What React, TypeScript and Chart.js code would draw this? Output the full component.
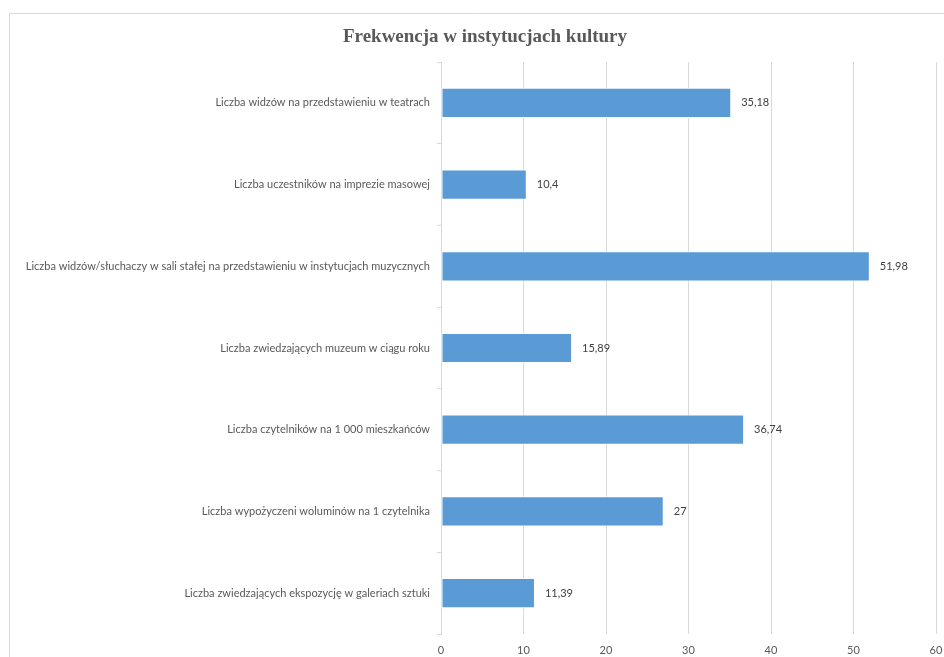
import React, { useEffect, useRef } from "react";
import { Chart, registerables } from "chart.js";

Chart.register(...registerables);

const categories = [
  "Liczba widzów na przedstawieniu w teatrach",
  "Liczba uczestników na imprezie masowej",
  "Liczba widzów/słuchaczy w sali stałej na przedstawieniu w instytucjach muzycznych",
  "Liczba zwiedzających muzeum w ciągu roku",
  "Liczba czytelników na 1 000 mieszkańców",
  "Liczba wypożyczeni woluminów na 1 czytelnika",
  "Liczba zwiedzających ekspozycję w galeriach sztuki",
];
const values = [35.18, 10.4, 51.98, 15.89, 36.74, 27, 11.39];
const xTicks = [0, 10, 20, 30, 40, 50, 60];
const title = "Frekwencja w instytucjach kultury";

const LABEL_FONT = "Lato, 'Liberation Sans', sans-serif";

const framePlugin = {
  id: "frame",
  beforeDraw(chart: any) {
    const ctx = chart.ctx;
    ctx.save();
    ctx.fillStyle = "#ffffff";
    ctx.fillRect(0, 0, chart.width, chart.height);
    ctx.strokeStyle = "#d9d9d9";
    ctx.lineWidth = 1;
    ctx.beginPath();
    ctx.moveTo(9.5, chart.height);
    ctx.lineTo(9.5, 13.5);
    ctx.lineTo(chart.width, 13.5);
    ctx.stroke();
    ctx.font = "bold 19px 'Liberation Serif', 'Times New Roman', serif";
    ctx.fillStyle = "#595959";
    ctx.textAlign = "center";
    ctx.textBaseline = "middle";
    ctx.fillText(title, 485, 37);
    ctx.restore();
  },
};

const labelPlugin = {
  id: "valueLabels",
  afterDatasetsDraw(chart: any) {
    const ctx = chart.ctx;
    const meta = chart.getDatasetMeta(0);
    ctx.save();
    ctx.font = `11px ${LABEL_FONT}`;
    ctx.fillStyle = "#404040";
    ctx.textAlign = "left";
    ctx.textBaseline = "middle";
    meta.data.forEach((bar: any, i: number) => {
      const txt = String(values[i]).replace(".", ",");
      ctx.fillText(txt, bar.x + 10, bar.y);
    });
    ctx.restore();
  },
};

export default function App() {
  const ref = useRef<HTMLCanvasElement>(null);
  useEffect(() => {
    if (!ref.current) return;
    const chart = new Chart(ref.current, {
      type: "bar",
      data: {
        labels: categories,
        datasets: [
          {
            data: values,
            backgroundColor: "#5b9bd5",
            borderColor: "#ffffff",
            borderWidth: 1,
            borderSkipped: false,
            barPercentage: 0.37,
            categoryPercentage: 1,
          },
        ],
      },
      options: {
        indexAxis: "y",
        responsive: false,
        animation: false,
        layout: { padding: { left: 0, right: 8, top: 62, bottom: 0 } },
        plugins: {
          legend: { display: false },
          tooltip: { enabled: false },
          title: { display: false },
        },
        scales: {
          x: {
            min: 0,
            max: 60,
            afterBuildTicks(scale: any) {
              scale.ticks = xTicks.map((v) => ({ value: v }));
            },
            afterFit(scale: any) {
              scale.height = 23;
              scale.paddingRight = 0;
              scale.paddingLeft = 0;
            },
            grid: { color: "#d9d9d9", drawTicks: false, lineWidth: 1 },
            border: { display: false },
            ticks: {
              color: "#595959",
              padding: 10,
              font: { family: LABEL_FONT, size: 11 },
            },
          },
          y: {
            offset: true,
            afterFit(scale: any) {
              scale.width = 441;
              scale.paddingTop = 0;
              scale.paddingBottom = 0;
            },
            grid: {
              offset: true,
              drawOnChartArea: false,
              drawTicks: true,
              tickLength: 4,
              color: "#d9d9d9",
            },
            border: { display: true, color: "#d9d9d9" },
            ticks: {
              color: "#595959",
              padding: 7,
              autoSkip: false,
              font: { family: LABEL_FONT, size: 11 },
            },
          },
        },
      },
      plugins: [framePlugin, labelPlugin],
    });
    return () => chart.destroy();
  }, []);
  return (
    <div style={{ position: "fixed", left: 0, top: 0, width: 944, height: 657, background: "#fff" }}>
      <canvas ref={ref} width={944} height={657} style={{ display: "block", width: 944, height: 657 }} />
    </div>
  );
}
